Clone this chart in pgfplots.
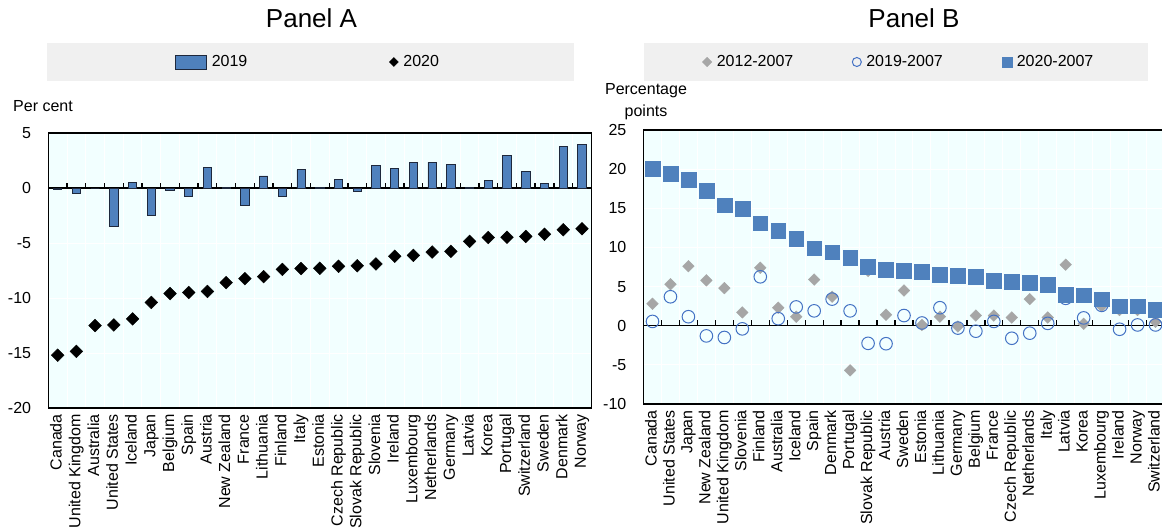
\documentclass[border=0pt]{standalone}
\usepackage{fontspec}
\setmainfont{Liberation Sans}
\usepackage{pgfplots}
\usepackage{pgfplotstable}
\pgfplotsset{compat=1.18}
\usetikzlibrary{plotmarks,calc}

\definecolor{oecdblue}{RGB}{79,129,189}
\definecolor{ringblue}{RGB}{68,114,196}
\definecolor{bggray}{RGB}{240,240,240}
\definecolor{plotbg}{RGB}{242,255,255}
\definecolor{diagray}{RGB}{166,166,166}
\definecolor{baredge}{RGB}{30,40,60}

\pgfplotstableread{
idx v2019 v2020
0 -0.10 -15.2
1 -0.45 -14.85
2 0.00 -12.5
3 -3.50 -12.45
4 0.50 -11.9
5 -2.50 -10.4
6 -0.20 -9.6
7 -0.75 -9.5
8 1.85 -9.4
9 0.05 -8.6
10 -1.60 -8.24
11 1.10 -8.06
12 -0.80 -7.4
13 1.65 -7.32
14 0.05 -7.3
15 0.80 -7.12
16 -0.27 -7.06
17 2.03 -6.9
18 1.79 -6.2
19 2.33 -6.12
20 2.33 -5.82
21 2.12 -5.76
22 0.05 -4.85
23 0.70 -4.5
24 2.97 -4.48
25 1.50 -4.4
26 0.40 -4.2
27 3.79 -3.8
28 3.97 -3.7
}\panelA

\pgfplotstableread{
idx v12 v19 v20
0 2.8 0.55 20.1
1 5.3 3.7 19.4
2 7.6 1.15 18.7
3 5.8 -1.3 17.2
4 4.8 -1.5 15.4
5 1.7 -0.4 14.9
6 7.4 6.25 13.1
7 2.3 0.9 12.1
8 1.15 2.4 11.1
9 5.9 1.9 9.9
10 3.7 3.4 9.4
11 -5.7 1.9 8.7
12 7.0 -2.25 7.5
13 1.4 -2.3 7.15
14 4.5 1.3 7.0
15 0.1 0.35 6.85
16 1.15 2.3 6.5
17 -0.1 -0.3 6.4
18 1.3 -0.7 6.25
19 1.3 0.55 5.8
20 1.05 -1.6 5.6
21 3.4 -0.95 5.45
22 1.05 0.3 5.2
23 7.8 3.5 4.0
24 0.25 1.0 3.9
25 2.5 2.6 3.4
26 2.0 -0.45 2.5
27 2.0 0.1 2.5
28 0.5 0.1 2.0
}\panelB

\pgfplotsset{
  base/.style={
    scale only axis,
    anchor=south west,
    xmin=-0.5, xmax=28.5,
    xtick={0,...,28},
    minor xtick={0.5,1.5,...,27.5},
    xminorgrids=true,
    minor x grid style={white, line width=1pt},
    ymajorgrids=true,
    major y grid style={white, line width=1pt},
    major tick length=0pt, minor tick length=0pt,
    tick style={draw=none},
    axis background/.style={fill=plotbg},
    axis line style={black, line width=1.3pt},
    tick label style={font=\fontsize{16}{19}\selectfont, inner sep=0pt},
    /pgf/number format/assume math mode=true,
    yticklabel style={anchor=east, xshift=-17pt},
    xticklabel style={yshift=-6pt, rotate=90, anchor=east, text height=11.5pt, text depth=3.4pt},
    legend cell align=left,
    legend style={draw=none, fill=none, inner sep=0pt, outer sep=0pt,
      font=\fontsize{16}{19}\selectfont, nodes={inner sep=2pt},
      /tikz/every odd column/.append style={column sep=3pt}},
  },
  legA1/.style={legend image code/.code={\draw[fill=oecdblue, draw=baredge, line width=0.8pt] (0pt,-7pt) rectangle (31pt,7pt);}},
  legA2/.style={legend image code/.code={\draw[black, fill=black] plot[mark=square*, mark size=3.2pt, mark options={rotate=45}] coordinates {(0pt,0pt)};}},
  legB1/.style={legend image code/.code={\draw[diagray, fill=diagray] plot[mark=square*, mark size=3.3pt, mark options={rotate=45}] coordinates {(0pt,0pt)};}},
  legB2/.style={legend image code/.code={\draw[ringblue, line width=1pt] plot[mark=o, mark size=4.5pt] coordinates {(0pt,0pt)};}},
  legB3/.style={legend image code/.code={\draw[oecdblue, fill=oecdblue] plot[mark=square*, mark size=5pt] coordinates {(0pt,0pt)};}},
}

\begin{document}
\begin{tikzpicture}
\useasboundingbox (0pt,0pt) rectangle (1162pt,-531pt);
\fill[bggray] (47pt,-43pt) rectangle (574pt,-81pt);
\fill[bggray] (644pt,-43pt) rectangle (1148pt,-81pt);
\node[anchor=base, inner sep=0pt, font=\fontsize{26}{30}\selectfont] at (311.5pt,-27pt) {Panel A};
\node[anchor=base, inner sep=0pt, font=\fontsize{26}{30}\selectfont] at (914pt,-27pt) {Panel B};
\node[anchor=base west, inner sep=0pt, font=\fontsize{16}{19}\selectfont] at (13pt,-111pt) {Per cent};
\node[anchor=base, inner sep=0pt, font=\fontsize{16}{19}\selectfont] at (646pt,-94pt) {Percentage};
\node[anchor=base, inner sep=0pt, font=\fontsize{16}{19}\selectfont] at (646pt,-116pt) {points};

% Panel A
\begin{axis}[base, at={(48.3pt,-408pt)}, width=543pt, height=275pt,
  ymin=-20, ymax=5, ytick={-20,-15,...,5},
  xticklabels={Canada,United Kingdom,Australia,United States,Iceland,Japan,Belgium,Spain,Austria,New Zealand,France,Lithuania,Finland,Italy,Estonia,Czech Republic,Slovak Republic,Slovenia,Ireland,Luxembourg,Netherlands,Germany,Latvia,Korea,Portugal,Switzerland,Sweden,Denmark,Norway},
  legend columns=2,
  legend style={at={(0.2333,1.2582)}, anchor=west,
    /tikz/every even column/.append style={column sep=140pt}}]
\draw[line width=1.3pt] (axis cs:-0.5,0) -- (axis cs:28.5,0);
\coordinate (AL) at (axis cs:-0.5,0);
\coordinate (AR) at (axis cs:28.5,0);
\addplot[ybar, bar shift=0pt, bar width=8.3pt, fill=oecdblue, draw=baredge, line width=0.8pt, legA1]
  table[x=idx,y=v2019]{\panelA};
\addplot[only marks, mark=square*, mark size=4.5pt, mark options={rotate=45, fill=black, draw=black}, legA2]
  table[x=idx,y=v2020]{\panelA};
\legend{2019,2020}
\end{axis}
\foreach \i in {1,...,28} \draw[line width=1.3pt] ($(AL)!\i/29!(AR)$) -- ++(0pt,5.5pt);

% Panel B
\begin{axis}[base, at={(643.5pt,-404pt)}, width=521pt, height=274pt,
  ymin=-10, ymax=25, ytick={-10,-5,...,25},
  xticklabels={Canada,United States,Japan,New Zealand,United Kingdom,Slovenia,Finland,Australia,Iceland,Spain,Denmark,Portugal,Slovak Republic,Austria,Sweden,Estonia,Lithuania,Germany,Belgium,France,Czech Republic,Netherlands,Italy,Latvia,Korea,Luxembourg,Ireland,Norway,Switzerland},
  legend columns=3,
  legend style={at={(0.1132,1.2482)}, anchor=west,
    /tikz/every even column/.append style={column sep=57pt}}]
\draw[line width=1.3pt] (axis cs:-0.5,0) -- (axis cs:28.5,0);
\coordinate (BL) at (axis cs:-0.5,0);
\coordinate (BR) at (axis cs:28.5,0);
\addplot[only marks, mark=square*, mark size=4.1pt, mark options={rotate=45, fill=diagray, draw=diagray}, legB1]
  table[x=idx,y=v12]{\panelB};
\addplot[only marks, mark=o, mark size=6.3pt, mark options={draw=ringblue, line width=1pt}, legB2]
  table[x=idx,y=v19]{\panelB};
\addplot[only marks, mark=square*, mark size=7.4pt, mark options={fill=oecdblue, draw=oecdblue}, legB3]
  table[x=idx,y=v20]{\panelB};
\legend{2012-2007,2019-2007,2020-2007}
\end{axis}
\foreach \i in {1,...,28} \draw[line width=1.3pt] ($(BL)!\i/29!(BR)$) -- ++(0pt,5.5pt);
\end{tikzpicture}
\end{document}
